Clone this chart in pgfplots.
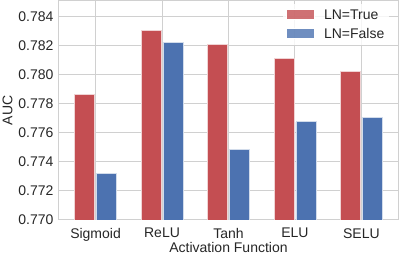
\documentclass[border=0pt]{standalone}
\usepackage{pgfplots}
\pgfplotsset{compat=1.18}
\usepackage{fontspec}
\setmainfont{Liberation Sans}
\definecolor{sred}{HTML}{C44E52}
\definecolor{sblue}{HTML}{4C72B0}
\definecolor{gridc}{HTML}{D0D0D0}
\begin{document}
\begin{tikzpicture}
\useasboundingbox (-59pt,-34pt) rectangle (340pt,220pt);
\begin{axis}[
  at={(0pt,0pt)}, anchor=south west,
  scale only axis, width=339pt, height=219pt,
  xmin=-0.55, xmax=4.55,
  ymin=0.770, ymax=0.7851,
  ybar, bar width=0.3, bar shift auto,
  xtick={0,1,2,3,4},
  xticklabels={Sigmoid,ReLU,Tanh,ELU,SELU},
  ytick={0.770,0.772,0.774,0.776,0.778,0.780,0.782,0.784},
  yticklabel style={xshift=-2pt, /pgf/number format/.cd, fixed, fixed zerofill, precision=3},
  /pgf/number format/assume math mode=true,
  scaled y ticks=false,
  tick style={draw=none},
  grid=major,
  major grid style={gridc, line width=1pt},
  axis line style={gridc, line width=1pt},
  ticklabel style={font=\fontsize{14}{16}\selectfont, text=black!85},
  xticklabel style={yshift=-0.5pt},
  label style={font=\fontsize{14}{16}\selectfont, text=black!85},
  xlabel={Activation Function},
  ylabel={AUC},
  xlabel style={yshift=6pt},
  ylabel style={yshift=-1pt},
  legend style={draw=none, fill=white, fill opacity=0.8, text opacity=1, at={(0.975,0.985)}, anchor=north east, font=\fontsize{14}{16}\selectfont, text=black!85, row sep=3.5pt, inner sep=3pt},
  legend image code/.code={\draw[#1, draw=white] (0pt,-4.5pt) rectangle (28pt,6pt); \path (35pt,0pt);},
  legend cell align=left,
]
\addplot[fill=sred, draw=white!75!sred, line width=0.8pt] coordinates {(0,0.77865) (1,0.78309) (2,0.7821) (3,0.78116) (4,0.78023)};
\addplot[fill=sblue, draw=white!75!sblue, line width=0.8pt] coordinates {(0,0.77323) (1,0.78226) (2,0.77485) (3,0.77677) (4,0.77705)};
\legend{LN=True, LN=False}
\end{axis}
\end{tikzpicture}
\end{document}
